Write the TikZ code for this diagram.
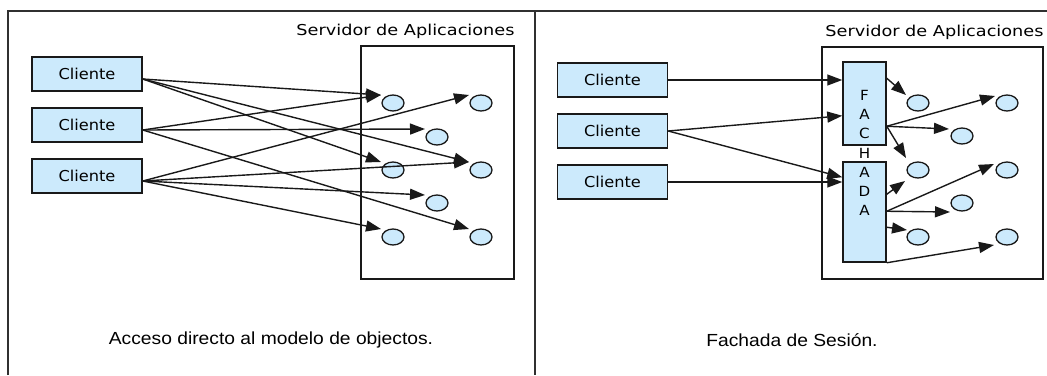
\documentclass[tikz,border=0pt]{standalone}
\usepackage{fontspec}
\usetikzlibrary{arrows.meta,shapes.geometric,calc}
\newfontfamily\boxfont[FakeStretch=1.08]{DejaVu Sans}
\newfontfamily\srvfont[FakeStretch=1.18]{DejaVu Sans}
\newfontfamily\capfont[FakeStretch=1.1]{Liberation Sans}
\definecolor{objfill}{RGB}{204,234,252}
\definecolor{ink}{RGB}{25,25,25}
\tikzset{
  client/.style={draw=ink, line width=1.5pt, fill=objfill, minimum width=110pt,
    minimum height=34pt, inner sep=0pt, font=\boxfont\fontsize{15}{18}\selectfont},
  server/.style={draw=ink, line width=1.5pt, inner sep=0pt},
  facade/.style={draw=ink, line width=1.5pt, fill=objfill, minimum width=43pt, inner sep=0pt},
  obj/.style={ellipse, draw=ink, line width=1.3pt, fill=objfill, minimum width=22pt,
    minimum height=16pt, inner sep=0pt},
  letter/.style={inner sep=0pt, font=\boxfont\fontsize{14}{16}\selectfont},
  srvlabel/.style={anchor=east, inner sep=0pt, font=\srvfont\fontsize{15}{18}\selectfont},
  caption/.style={inner sep=0pt, font=\capfont\fontsize{17.5}{20}\selectfont},
  frame/.style={draw=ink!90, line width=1.5pt},
  arr/.style={draw=ink, line width=1.4pt, -{Triangle[length=15pt,width=11pt]}},
}
\begin{document}
\begin{tikzpicture}[x=1pt,y=-1pt]
\useasboundingbox (0,0) rectangle (1047,375);

% outer frame and panel divider
\coordinate (ftl) at (8,11);
\coordinate (fbl) at (8,375);
\coordinate (ftr) at (1047,11);
\coordinate (dtop) at (535,11);
\coordinate (dbot) at (535,375);
\draw[frame] (fbl) -- (ftl) -- (ftr);
\draw[frame] (dtop) -- (dbot);

% ---------- left panel: direct access ----------
\node[server, minimum width=153pt, minimum height=233pt] (srvL) at (437.5,162.5) {};
\node[srvlabel] (srvLt) at ($(srvL.north east)+(0,-14)$) {Servidor de Aplicaciones};

\node[client] (c1) at (87,74) {Cliente};
\node[client] (c2) at (87,125) {Cliente};
\node[client] (c3) at (87,176) {Cliente};

\foreach \n/\x/\y in {L11/393/103, L31/481/103, L22/437/137, L13/393/170,
                      L33/481/170, L24/437/203, L15/393/237, L35/481/237}
  \node[obj] (\n) at (\x,\y) {};

\coordinate (c1o) at ($(c1.east)+(0,5)$);
\coordinate (c2o) at ($(c2.east)+(0,5)$);
\coordinate (c3o) at ($(c3.east)+(0,5)$);

\foreach \s/\t in {c1o/L11, c1o/L13, c1o/L33, c2o/L11, c2o/L22, c2o/L35,
                   c3o/L31, c3o/L33, c3o/L24, c3o/L15}
  \draw[arr] (\s) -- ($(\t.center)+(-12,-8)$);

\node[caption] (capL) at (271,340) {Acceso directo al modelo de objectos.};

% ---------- right panel: session facade ----------
\node[server, minimum width=221pt, minimum height=232pt] (srvR) at (932.5,163) {};
\node[srvlabel] (srvRt) at ($(srvR.north east)+(0,-14)$) {Servidor de Aplicaciones};

\node[client] (r1) at (612.5,80) {Cliente};
\node[client] (r2) at (612.5,131) {Cliente};
\node[client] (r3) at (612.5,182) {Cliente};

\node[facade, minimum height=83pt] (fu) at (864.5,103.5) {};
\node[facade, minimum height=100pt] (fl) at (864.5,212) {};
\foreach \ch [count=\i from 0] in {F,A,C,H,A,D,A}
  \node[letter] (fl\i) at (864.5,95+19.3*\i) {\ch};

\foreach \n/\x/\y in {R11/918/103, R31/1007/103, R22/962/136, R13/918/170,
                      R33/1007/170, R24/962/203, R15/918/237, R35/1007/237}
  \node[obj] (\n) at (\x,\y) {};

% clients into the facade
\draw[arr] (r1.east) -- (fu.west |- r1.east);
\draw[arr] (r2.east) -- ($(fu.south west)+(0,-30)$);
\draw[arr] (r2.east) -- ($(fl.north west)+(0,16)$);
\draw[arr] (r3.east) -- (fl.west |- r3.east);

% facade out to the objects
\coordinate (fa) at ($(fu.north east)+(0,17)$);
\coordinate (fb) at ($(fu.north east)+(0,65)$);
\coordinate (fc) at ($(fl.north east)+(0,33)$);
\coordinate (fd) at ($(fl.north east)+(0,50)$);
\coordinate (fe) at ($(fl.north east)+(0,66)$);
\coordinate (ff) at (fl.south east);

\draw[arr] (fa) -- ($(R11.center)+(-12,-8)$);
\draw[arr] (fb) -- ($(R31.center)+(-12,-7)$);
\draw[arr] (fb) -- ($(R22.center)+(-13,-7)$);
\draw[arr] (fb) -- ($(R13.center)+(-12,-12)$);
\draw[arr] (fc) -- ($(R13.center)+(-13,11)$);
\draw[arr] (fd) -- ($(R33.center)+(-13,-6)$);
\draw[arr] (fd) -- ($(R24.center)+(-12,9)$);
\draw[arr] (fe) -- ($(R15.center)+(-11,-7)$);
\draw[arr] (ff) -- ($(R35.center)+(-13,8)$);

\node[caption] (capR) at (792,340) {Fachada de Sesión.};
\end{tikzpicture}
\end{document}
